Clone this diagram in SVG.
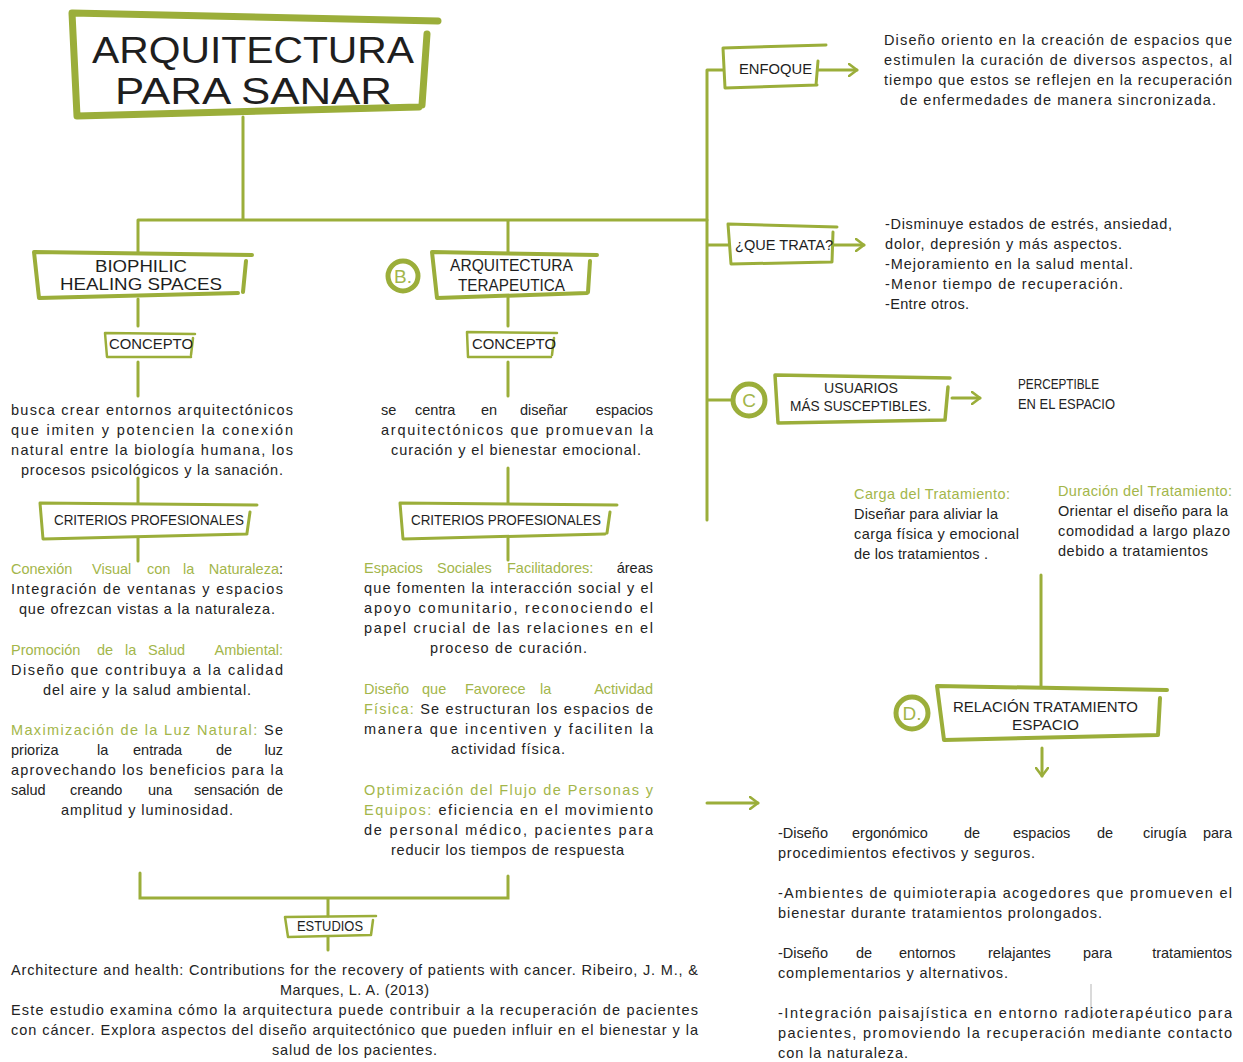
<svg xmlns="http://www.w3.org/2000/svg" width="1243" height="1062" viewBox="0 0 1243 1062">
<style>
.t{font-family:"Liberation Sans",Arial,sans-serif;font-size:14.5px;fill:#232323}
.g{fill:#a3b64a}
.e{text-anchor:end}
.lb{font-family:"Liberation Sans",Arial,sans-serif;fill:#1e1e1e}
.fr{fill:none;stroke:#9bae3a;stroke-linejoin:round;stroke-linecap:round}
.ln{fill:none;stroke:#9bae3a;stroke-width:3;stroke-linecap:round}
.ci{fill:#fff;stroke:#9bae3a;stroke-width:5}
.cl{font-family:"Liberation Sans",Arial,sans-serif;font-size:19px;fill:#a3b64a;text-anchor:middle}
</style>
<defs>
<marker id="ah" markerWidth="12" markerHeight="14" refX="9" refY="7" orient="auto" markerUnits="userSpaceOnUse">
<path d="M1,1 L9,7 L1,13" fill="none" stroke="#9bae3a" stroke-width="2.6" stroke-linecap="round" stroke-linejoin="round"/>
</marker>
<linearGradient id="fade" x1="0" x2="1" y1="0" y2="0">
<stop offset="0" stop-color="#9bae3a"/><stop offset="0.8" stop-color="#9bae3a"/><stop offset="1" stop-color="#9bae3a" stop-opacity="0.2"/>
</linearGradient>
</defs>
<rect width="1243" height="1062" fill="#fff"/>

<g id="connectors">
<path class="ln" d="M243,117 V220 M138,220 H707 M138,220 V252 M508,220 V253"/>
<path class="ln" d="M707,70 V520 M707,70 H723 M707,245 H728 M707,400 H733"/>
<path d="M707,520 H818" stroke="url(#fade)" stroke-width="3" fill="none"/>
<path class="ln" d="M138,299 V326 M138,362 V396 M138,478 V503 M138,538 V561"/>
<path class="ln" d="M508,297 V326 M508,362 V396 M508,468 V503 M508,538 V560"/>
<path class="ln" d="M140,873 V898 H508 V876 M328,898 V916 M328,937 V950"/>
<path class="ln" d="M1041,575 V686"/>
<path class="ln" marker-end="url(#ah)" d="M818,70 H857"/>
<path class="ln" marker-end="url(#ah)" d="M834,245 H864"/>
<path class="ln" marker-end="url(#ah)" d="M952,398 H980"/>
<path class="ln" marker-end="url(#ah)" d="M1042,748 V776"/>
<path class="ln" marker-end="url(#ah)" d="M707,803 H758"/>
<path d="M1091,984 V1019" stroke="#b5b5b5" stroke-width="1" fill="none"/>
<path d="M1087,1013 L1091,1019 L1095,1013" stroke="#b5b5b5" stroke-width="1" fill="none"/>
</g>

<g id="title">
<path class="fr" stroke-width="7" d="M438,21 L72,13 L77,116 L419,107 M427,34 L422,105"/>
<text class="lb" x="92" y="63" font-size="36.5" textLength="322" lengthAdjust="spacingAndGlyphs">ARQUITECTURA</text>
<text class="lb" x="115" y="104" font-size="36.5" textLength="277" lengthAdjust="spacingAndGlyphs">PARA SANAR</text>
</g>

<g id="biophilic">
<path class="fr" stroke-width="4" d="M252,255 L34,252 L39,298 L238,293 M246,261 L243,292"/>
<text class="lb" x="95" y="272" font-size="17" textLength="92" lengthAdjust="spacingAndGlyphs">BIOPHILIC</text>
<text class="lb" x="60" y="290" font-size="17" textLength="162" lengthAdjust="spacingAndGlyphs">HEALING SPACES</text>
</g>

<g id="concepto-a">
<path class="fr" stroke-width="2.5" d="M195,334 L105,333 L107,357 L191,357 M193,338 L191,355"/>
<text class="lb" x="109" y="349" font-size="14" textLength="84" lengthAdjust="spacingAndGlyphs">CONCEPTO</text>
</g>

<g id="arq-terapeutica">
<circle class="ci" cx="403" cy="276" r="15"/>
<text class="cl" x="403" y="283">B.</text>
<path class="fr" stroke-width="4" d="M597,255 L432,252 L437,298 L587,293 M590,261 L588,292"/>
<text class="lb" x="450" y="271" font-size="16.5" textLength="123" lengthAdjust="spacingAndGlyphs">ARQUITECTURA</text>
<text class="lb" x="458" y="291" font-size="16.5" textLength="107" lengthAdjust="spacingAndGlyphs">TERAPEUTICA</text>
</g>

<g id="concepto-b">
<path class="fr" stroke-width="2.5" d="M557,333 L467,332 L468,357 L551,357 M554,338 L552,355"/>
<text class="lb" x="472" y="349" font-size="14" textLength="84" lengthAdjust="spacingAndGlyphs">CONCEPTO</text>
</g>

<g id="concepto-a-text">
<text class="t" x="11" y="415" textLength="282" lengthAdjust="spacing">busca crear entornos arquitectónicos</text>
<text class="t" x="11" y="435" textLength="282" lengthAdjust="spacing">que imiten y potencien la conexión</text>
<text class="t" x="11" y="455" textLength="282" lengthAdjust="spacing">natural entre la biología humana, los</text>
<text class="t" x="21" y="475" textLength="262" lengthAdjust="spacing">procesos psicológicos y la sanación.</text>
</g>

<g id="concepto-b-text">
<text class="t" y="415"><tspan x="381">se</tspan> <tspan x="415">centra</tspan> <tspan x="481">en</tspan> <tspan x="520">diseñar</tspan></text>
<text class="t e" x="653" y="415">espacios</text>
<text class="t" x="381" y="435" textLength="272" lengthAdjust="spacing">arquitectónicos que promuevan la</text>
<text class="t" x="391" y="455" textLength="250" lengthAdjust="spacing">curación y el bienestar emocional.</text>
</g>

<g id="criterios-a">
<path class="fr" stroke-width="3" d="M257,505 L40,503 L43,539 L247,534 M250,512 L247,533"/>
<text class="lb" x="54" y="525" font-size="14" textLength="190" lengthAdjust="spacingAndGlyphs">CRITERIOS PROFESIONALES</text>
</g>

<g id="criterios-b">
<path class="fr" stroke-width="3" d="M617,505 L400,503 L403,539 L605,534 M610,512 L607,533"/>
<text class="lb" x="411" y="525" font-size="14" textLength="190" lengthAdjust="spacingAndGlyphs">CRITERIOS PROFESIONALES</text>
</g>

<g id="criterios-a-text">
<text class="t g" y="574"><tspan x="11">Conexión</tspan> <tspan x="92">Visual</tspan> <tspan x="147">con</tspan> <tspan x="183">la</tspan></text>
<text class="t e" x="283" y="574"><tspan class="g">Naturaleza</tspan>:</text>
<text class="t" x="11" y="594" textLength="272" lengthAdjust="spacing">Integración de ventanas y espacios</text>
<text class="t" x="19" y="614" textLength="256" lengthAdjust="spacing">que ofrezcan vistas a la naturaleza.</text>
<text class="t g" y="655"><tspan x="11">Promoción</tspan> <tspan x="97">de</tspan> <tspan x="125">la</tspan> <tspan x="148">Salud</tspan></text>
<text class="t g e" x="283" y="655">Ambiental:</text>
<text class="t" x="11" y="675" textLength="272" lengthAdjust="spacing">Diseño que contribuya a la calidad</text>
<text class="t" x="43" y="695" textLength="208" lengthAdjust="spacing">del aire y la salud ambiental.</text>
<text class="t" x="11" y="735" textLength="272" lengthAdjust="spacing"><tspan class="g">Maximización de la Luz Natural:</tspan> Se</text>
<text class="t" y="755"><tspan x="11">prioriza</tspan> <tspan x="97">la</tspan> <tspan x="133">entrada</tspan> <tspan x="216">de</tspan></text>
<text class="t e" x="283" y="755">luz</text>
<text class="t" x="11" y="775" textLength="272" lengthAdjust="spacing">aprovechando los beneficios para la</text>
<text class="t" y="795"><tspan x="11">salud</tspan> <tspan x="70">creando</tspan> <tspan x="148">una</tspan> <tspan x="194">sensación</tspan></text>
<text class="t e" x="283" y="795">de</text>
<text class="t" x="61" y="815" textLength="172" lengthAdjust="spacing">amplitud y luminosidad.</text>
</g>

<g id="criterios-b-text">
<text class="t g" y="573"><tspan x="364">Espacios</tspan> <tspan x="437">Sociales</tspan> <tspan x="507">Facilitadores:</tspan></text>
<text class="t e" x="653" y="573">áreas</text>
<text class="t" x="364" y="593" textLength="289" lengthAdjust="spacing">que fomenten la interacción social y el</text>
<text class="t" x="364" y="613" textLength="289" lengthAdjust="spacing">apoyo comunitario, reconociendo el</text>
<text class="t" x="364" y="633" textLength="289" lengthAdjust="spacing">papel crucial de las relaciones en el</text>
<text class="t" x="430" y="653" textLength="157" lengthAdjust="spacing">proceso de curación.</text>
<text class="t g" y="694"><tspan x="364">Diseño</tspan> <tspan x="422">que</tspan> <tspan x="465">Favorece</tspan> <tspan x="540">la</tspan></text>
<text class="t g e" x="653" y="694">Actividad</text>
<text class="t" x="364" y="714" textLength="289" lengthAdjust="spacing"><tspan class="g">Física:</tspan> Se estructuran los espacios de</text>
<text class="t" x="364" y="734" textLength="289" lengthAdjust="spacing">manera que incentiven y faciliten la</text>
<text class="t" x="451" y="754" textLength="114" lengthAdjust="spacing">actividad física.</text>
<text class="t g" x="364" y="795" textLength="289" lengthAdjust="spacing">Optimización del Flujo de Personas y</text>
<text class="t" x="364" y="815" textLength="289" lengthAdjust="spacing"><tspan class="g">Equipos:</tspan> eficiencia en el movimiento</text>
<text class="t" x="364" y="835" textLength="289" lengthAdjust="spacing">de personal médico, pacientes para</text>
<text class="t" x="391" y="855" textLength="233" lengthAdjust="spacing">reducir los tiempos de respuesta</text>
</g>

<g id="estudios">
<path class="fr" stroke-width="2.5" d="M376,916 L285,917 L288,937 L371,935 M373,920 L371,935"/>
<text class="lb" x="297" y="931" font-size="14" textLength="66" lengthAdjust="spacingAndGlyphs">ESTUDIOS</text>
</g>

<g id="estudios-text">
<text class="t" x="11" y="975" textLength="687" lengthAdjust="spacing">Architecture and health: Contributions for the recovery of patients with cancer. Ribeiro, J. M., &amp;</text>
<text class="t" x="280" y="995" textLength="149" lengthAdjust="spacing">Marques, L. A. (2013)</text>
<text class="t" x="11" y="1015" textLength="687" lengthAdjust="spacing">Este estudio examina cómo la arquitectura puede contribuir a la recuperación de pacientes</text>
<text class="t" x="11" y="1035" textLength="687" lengthAdjust="spacing">con cáncer. Explora aspectos del diseño arquitectónico que pueden influir en el bienestar y la</text>
<text class="t" x="272" y="1055" textLength="165" lengthAdjust="spacing">salud de los pacientes.</text>
</g>

<g id="enfoque">
<path class="fr" stroke-width="3" d="M826,45 L723,48 L725,88 L817,85 M818,61 L816,85"/>
<text class="lb" x="739" y="74" font-size="15" textLength="73" lengthAdjust="spacingAndGlyphs">ENFOQUE</text>
</g>
<g id="enfoque-text">
<text class="t" x="884" y="45" textLength="348" lengthAdjust="spacing">Diseño oriento en la creación de espacios que</text>
<text class="t" x="884" y="65" textLength="348" lengthAdjust="spacing">estimulen la curación de diversos aspectos, al</text>
<text class="t" x="884" y="85" textLength="348" lengthAdjust="spacing">tiempo que estos se reflejen en la recuperación</text>
<text class="t" x="900" y="105" textLength="316" lengthAdjust="spacing">de enfermedades de manera sincronizada.</text>
</g>

<g id="que-trata">
<path class="fr" stroke-width="3" d="M837,227 L728,224 L731,264 L831,262 M833,232 L832,262"/>
<text class="lb" x="735" y="250" font-size="15" textLength="98" lengthAdjust="spacingAndGlyphs">¿QUE TRATA?</text>
</g>
<g id="que-trata-text">
<text class="t" x="885" y="229" textLength="287" lengthAdjust="spacing">-Disminuye estados de estrés, ansiedad,</text>
<text class="t" x="885" y="249" textLength="237" lengthAdjust="spacing">dolor, depresión y más aspectos.</text>
<text class="t" x="885" y="269" textLength="248" lengthAdjust="spacing">-Mejoramiento en la salud mental.</text>
<text class="t" x="885" y="289" textLength="238" lengthAdjust="spacing">-Menor tiempo de recuperación.</text>
<text class="t" x="885" y="309" textLength="84" lengthAdjust="spacing">-Entre otros.</text>
</g>

<g id="usuarios">
<circle class="ci" cx="749" cy="400" r="16"/>
<text class="cl" x="749" y="407">C</text>
<path class="fr" stroke-width="3.5" d="M950,378 L775,375 L778,423 L945,420 M948,387 L945,420"/>
<text class="lb" x="824" y="393" font-size="15" textLength="74" lengthAdjust="spacingAndGlyphs">USUARIOS</text>
<text class="lb" x="790" y="411" font-size="15" textLength="141" lengthAdjust="spacingAndGlyphs">MÁS SUSCEPTIBLES.</text>
</g>
<g id="perceptible">
<text class="t" x="1018" y="389" font-size="13.5" textLength="81" lengthAdjust="spacingAndGlyphs">PERCEPTIBLE</text>
<text class="t" x="1018" y="409" font-size="13.5" textLength="97" lengthAdjust="spacingAndGlyphs">EN EL ESPACIO</text>
</g>

<g id="carga">
<text class="t g" x="854" y="499" font-size="13.5" textLength="156" lengthAdjust="spacing">Carga del Tratamiento:</text>
<text class="t" x="854" y="519" font-size="13.5" textLength="144" lengthAdjust="spacing">Diseñar para aliviar la</text>
<text class="t" x="854" y="539" font-size="13.5" textLength="165" lengthAdjust="spacing">carga física y emocional</text>
<text class="t" x="854" y="559" font-size="13.5" textLength="134" lengthAdjust="spacing">de los tratamientos .</text>
</g>
<g id="duracion">
<text class="t g" x="1058" y="496" font-size="13.5" textLength="174" lengthAdjust="spacing">Duración del Tratamiento:</text>
<text class="t" x="1058" y="516" font-size="13.5" textLength="170" lengthAdjust="spacing">Orientar el diseño para la</text>
<text class="t" x="1058" y="536" font-size="13.5" textLength="172" lengthAdjust="spacing">comodidad a largo plazo</text>
<text class="t" x="1058" y="556" font-size="13.5" textLength="150" lengthAdjust="spacing">debido a tratamientos</text>
</g>

<g id="relacion">
<circle class="ci" cx="912" cy="713" r="16"/>
<text class="cl" x="912" y="720">D.</text>
<path class="fr" stroke-width="4" d="M1167,690 L937,686 L944,740 L1158,735 M1160,698 L1158,735"/>
<text class="lb" x="953" y="712" font-size="15" textLength="185" lengthAdjust="spacingAndGlyphs">RELACIÓN TRATAMIENTO</text>
<text class="lb" x="1012" y="730" font-size="15" textLength="67" lengthAdjust="spacingAndGlyphs">ESPACIO</text>
</g>

<g id="relacion-text">
<text class="t" y="838"><tspan x="778">-Diseño</tspan> <tspan x="852">ergonómico</tspan> <tspan x="964">de</tspan> <tspan x="1013">espacios</tspan> <tspan x="1097">de</tspan> <tspan x="1143">cirugía</tspan></text>
<text class="t e" x="1232" y="838">para</text>
<text class="t" x="778" y="858" textLength="257" lengthAdjust="spacing">procedimientos efectivos y seguros.</text>
<text class="t" x="778" y="898" textLength="454" lengthAdjust="spacing">-Ambientes de quimioterapia acogedores que promueven el</text>
<text class="t" x="778" y="918" textLength="324" lengthAdjust="spacing">bienestar durante tratamientos prolongados.</text>
<text class="t" y="958"><tspan x="778">-Diseño</tspan> <tspan x="856">de</tspan> <tspan x="899">entornos</tspan> <tspan x="988">relajantes</tspan> <tspan x="1083">para</tspan></text>
<text class="t e" x="1232" y="958">tratamientos</text>
<text class="t" x="778" y="978" textLength="230" lengthAdjust="spacing">complementarios y alternativos.</text>
<text class="t" x="778" y="1018" textLength="454" lengthAdjust="spacing">-Integración paisajística en entorno radioterapéutico para</text>
<text class="t" x="778" y="1038" textLength="454" lengthAdjust="spacing">pacientes, promoviendo la recuperación mediante contacto</text>
<text class="t" x="778" y="1058" textLength="130" lengthAdjust="spacing">con la naturaleza.</text>
</g>
</svg>
